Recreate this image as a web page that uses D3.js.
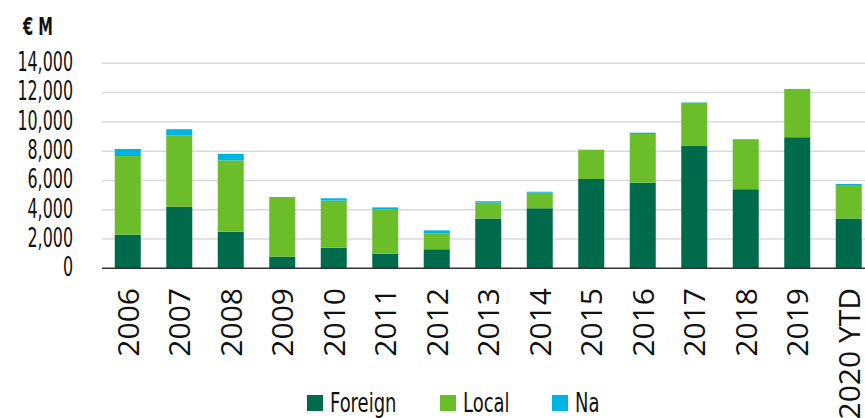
<!DOCTYPE html>
<html>
<head>
<meta charset="utf-8">
<script src="https://cdn.jsdelivr.net/npm/d3@7"></script>
<style>
  body { margin: 0; background: #fff; }
  svg { display: block; }
</style>
</head>
<body>
<svg id="chart" width="865" height="418"></svg>
<script>
// values (EUR million)
const years = ["2006", "2007", "2008", "2009", "2010", "2011", "2012", "2013", "2014", "2015", "2016", "2017", "2018", "2019", "2020 YTD"];
const foreign = [2300, 4200, 2500, 800, 1400, 1000, 1300, 3400, 4100, 6100, 5850, 8350, 5400, 8950, 3400];
const local = [5370, 4860, 4870, 4070, 3220, 3000, 1100, 1080, 1060, 2000, 3320, 2960, 3410, 3300, 2290];
const na = [480, 440, 450, 0, 160, 160, 190, 100, 70, 0, 90, 20, 10, 0, 70];
const yTicks = [0, 2000, 4000, 6000, 8000, 10000, 12000, 14000];
const seriesNames = ["Foreign", "Local", "Na"];
const colors = ["#006b4c", "#6bbd2a", "#00b3e0"];

const svg = d3.select("#chart");
// no condensed face installed, so squeeze DejaVu horizontally
const narrow = "'DejaVu Sans Condensed', 'DejaVu Sans', sans-serif";
const squeeze = 0.68;

const rows = years.map((y, i) => ({ year: y, Foreign: foreign[i], Local: local[i], Na: na[i] }));

const x = d3.scaleBand()
  .domain(years)
  .range([102, 874.5])
  .paddingInner(0.495)
  .paddingOuter(0.2475);

const y = d3.scaleLinear()
  .domain([0, 14000])
  .range([268.3, 63.3]);

// gridlines
svg.append("g")
  .selectAll("line")
  .data(yTicks.filter(d => d > 0))
  .join("line")
    .attr("x1", 102)
    .attr("x2", 865)
    .attr("y1", d => y(d))
    .attr("y2", d => y(d))
    .style("stroke", "#dadada")
    .style("stroke-width", 1.5);

// y tick labels
svg.append("g")
  .selectAll("text")
  .data(yTicks)
  .join("text")
    .attr("transform", d => `translate(73, ${y(d)}) scale(${squeeze}, 1)`)
    .attr("dy", "0.3em")
    .attr("text-anchor", "end")
    .style("font-family", narrow)
    .style("font-size", "26px")
    .style("fill", "#111")
    .text(d => d3.format(",")(d));

svg.append("text")
  .attr("transform", `translate(23, 35) scale(${squeeze}, 1)`)
  .style("font-family", narrow)
  .style("font-weight", "bold")
  .style("font-size", "24px")
  .style("fill", "#111")
  .text("€ M");

// stacked bars
const stack = d3.stack().keys(seriesNames);
const layers = stack(rows);

svg.append("g")
  .selectAll("g")
  .data(layers)
  .join("g")
    .style("fill", (d, i) => colors[i])
  .selectAll("rect")
  .data(d => d)
  .join("rect")
    .attr("x", d => x(d.data.year))
    .attr("width", x.bandwidth())
    .attr("y", d => y(d[1]))
    .attr("height", d => y(d[0]) - y(d[1]));

// baseline
svg.append("line")
  .attr("x1", 102)
  .attr("x2", 865)
  .attr("y1", y(0))
  .attr("y2", y(0))
  .style("stroke", "#333")
  .style("stroke-width", 1.5);

// x labels, rotated
svg.append("g")
  .selectAll("text")
  .data(years)
  .join("text")
    .attr("transform", d => `translate(${x(d) + x.bandwidth() / 2}, 288) rotate(-90)`)
    .attr("dy", "0.36em")
    .attr("text-anchor", "end")
    .style("font-family", "'Open Sans', sans-serif")
    .style("font-size", "30px")
    .style("fill", "#111")
    .text(d => d);

// legend
const legendX = [307, 440, 552];
const legend = svg.append("g")
  .selectAll("g")
  .data(seriesNames)
  .join("g")
    .attr("transform", (d, i) => `translate(${legendX[i]}, 395)`);

legend.append("rect")
  .attr("width", 16)
  .attr("height", 16)
  .style("fill", (d, i) => colors[i]);

legend.append("text")
  .attr("transform", "translate(23, 17) scale(0.74, 1)")
  .style("font-family", narrow)
  .style("font-size", "27px")
  .style("fill", "#111")
  .text(d => d);
</script>
</body>
</html>
